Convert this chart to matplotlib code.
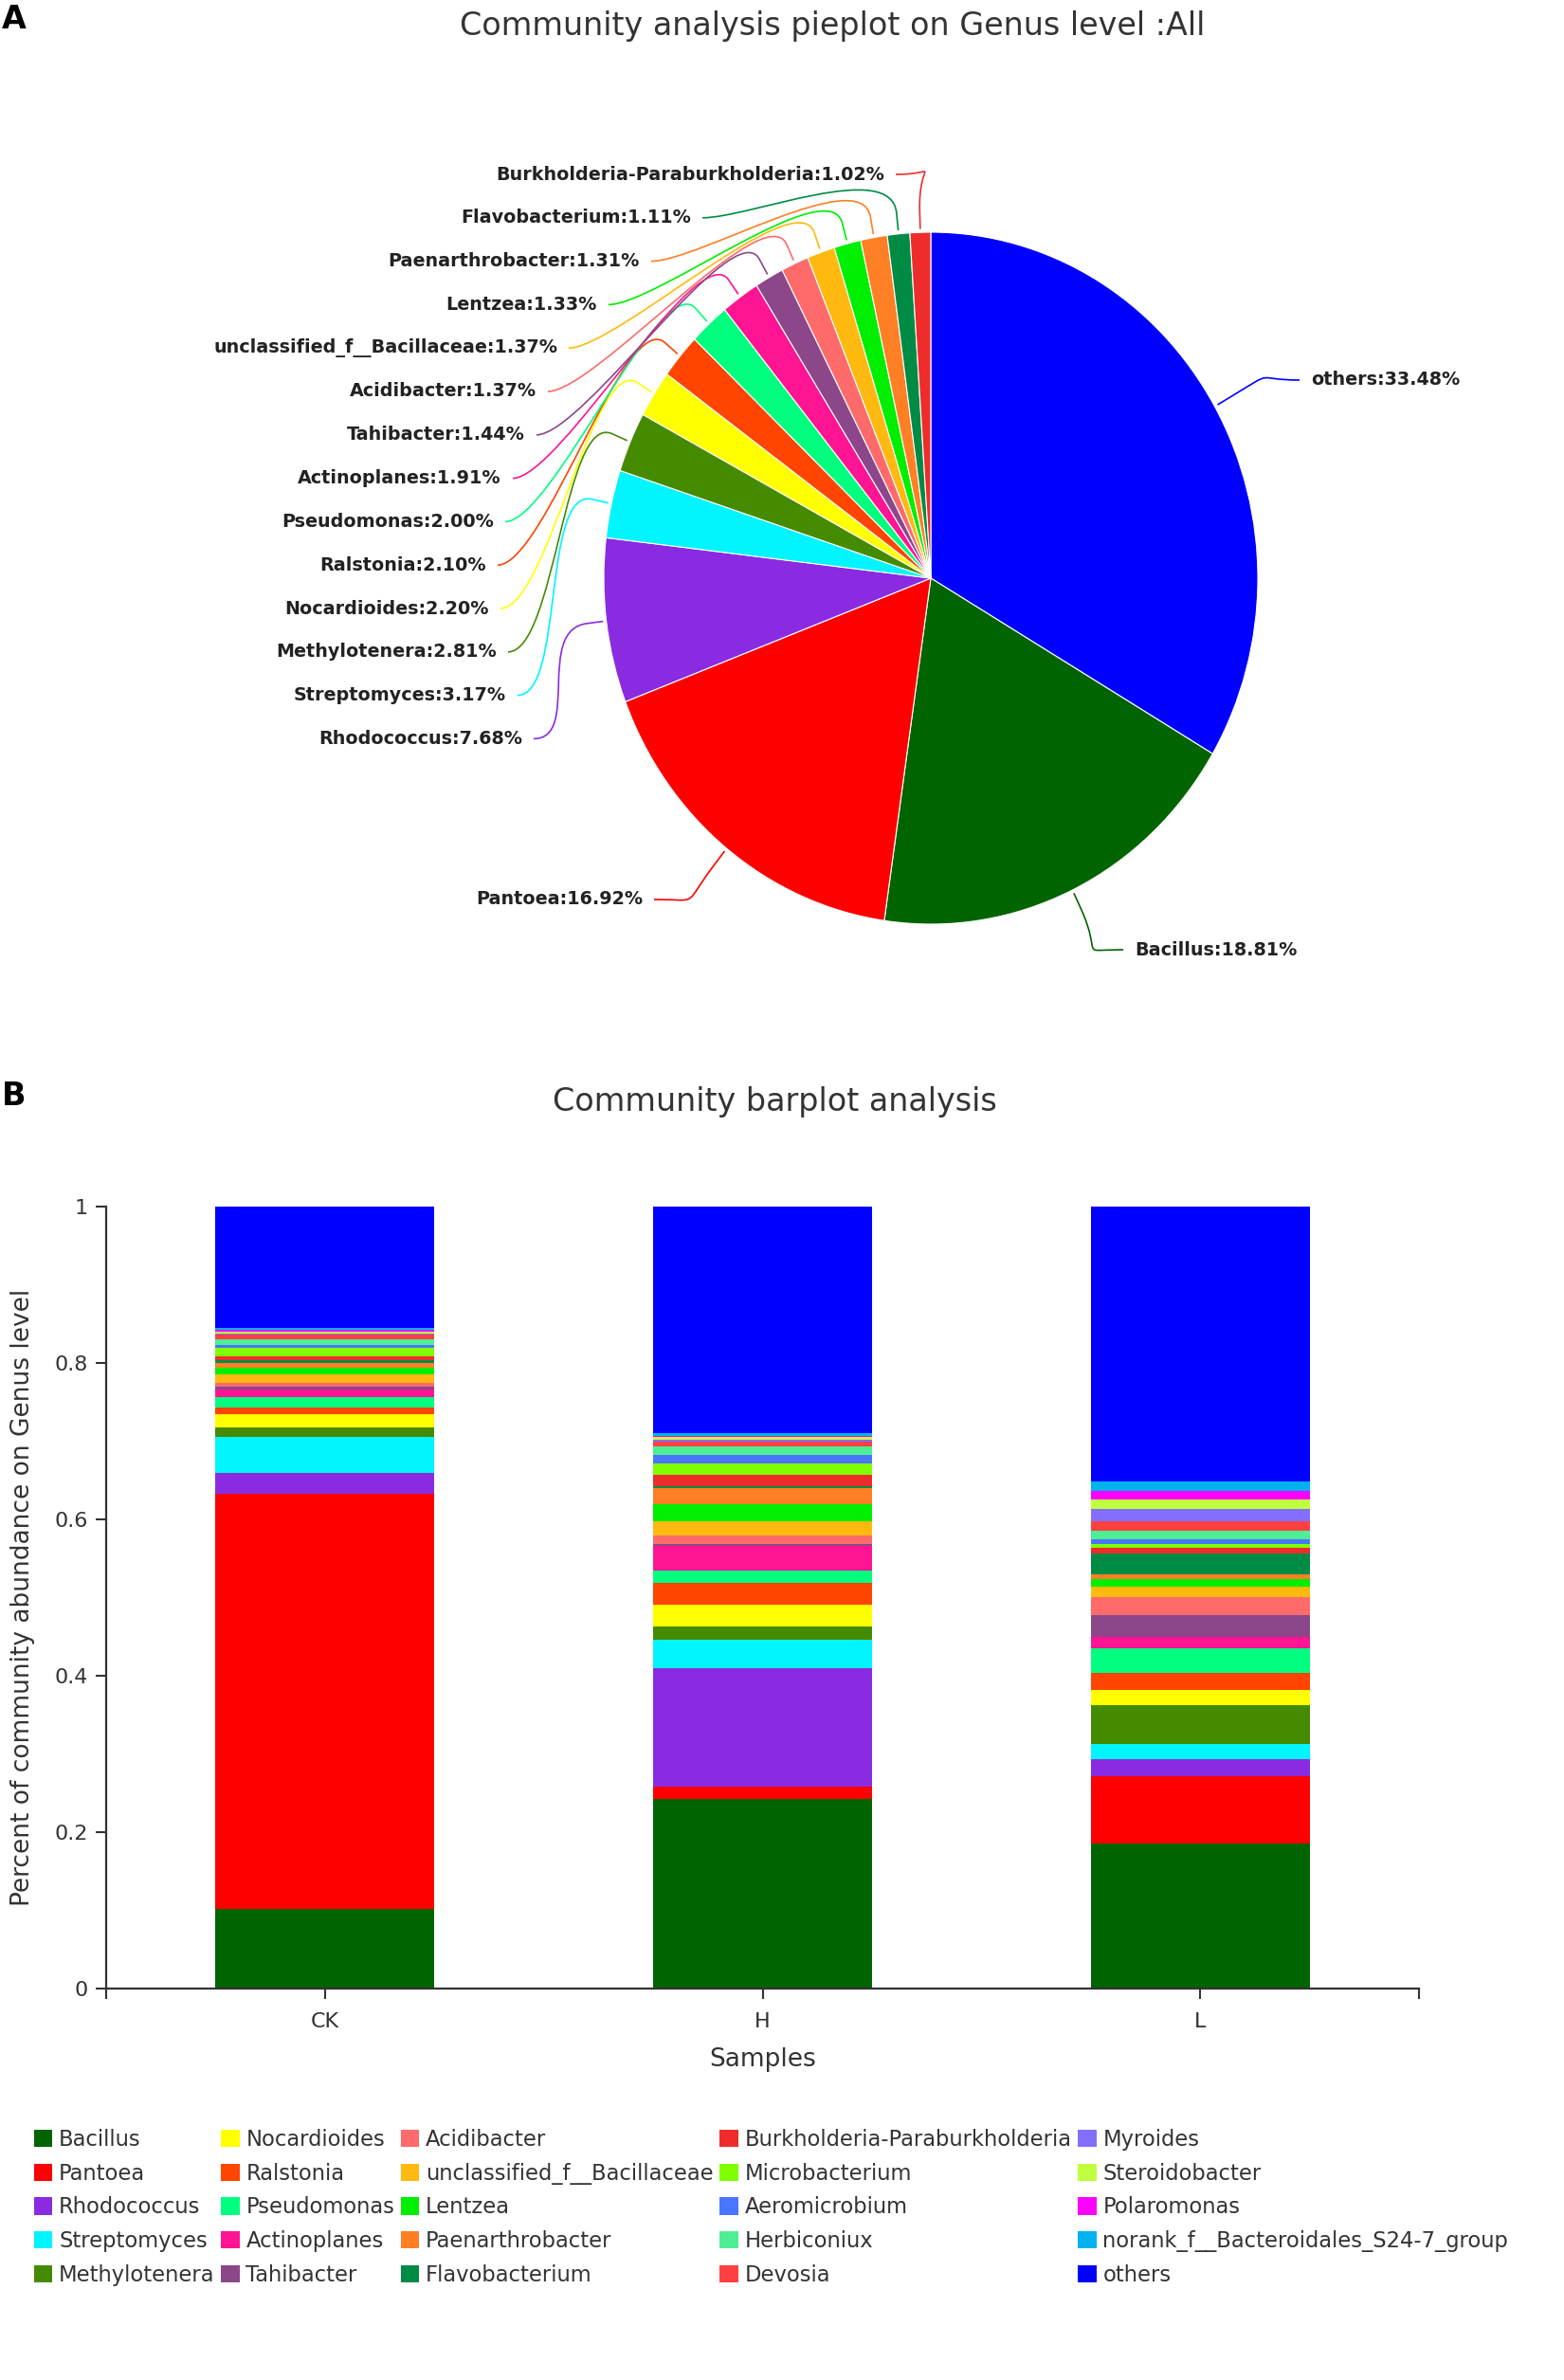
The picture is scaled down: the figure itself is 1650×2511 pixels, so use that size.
import numpy as np
import matplotlib
matplotlib.use("Agg")
import matplotlib.pyplot as plt
from matplotlib.path import Path
from matplotlib.patches import PathPatch
from matplotlib.ticker import FuncFormatter

plt.rcParams['font.family'] = ['DejaVu Sans']

# ---- data -------------------------------------------------------------
genera = ['Bacillus', 'Pantoea', 'Rhodococcus', 'Streptomyces', 'Methylotenera',
          'Nocardioides', 'Ralstonia', 'Pseudomonas', 'Actinoplanes', 'Tahibacter',
          'Acidibacter', 'unclassified_f__Bacillaceae', 'Lentzea', 'Paenarthrobacter',
          'Flavobacterium', 'Burkholderia-Paraburkholderia', 'Microbacterium',
          'Aeromicrobium', 'Herbiconiux', 'Devosia', 'Myroides', 'Steroidobacter',
          'Polaromonas', 'norank_f__Bacteroidales_S24-7_group', 'others']

colors = ['#006400', '#FF0000', '#8A2BE2', '#00F5FF', '#458B00',
          '#FFFF00', '#FF4500', '#00FF7F', '#FF1493', '#8B4789',
          '#FF6A6A', '#FFB90F', '#00EE00', '#FF7F24', '#008B45',
          '#EE2C2C', '#7FFF00', '#4876FF', '#4EEE94', '#FF4040',
          '#836FFF', '#C0FF3E', '#FF00FF', '#00B2EE', '#0000FF']

samples = ['CK', 'H', 'L']

ck_values = [0.102, 0.531, 0.026, 0.046, 0.012, 0.018, 0.008, 0.013, 0.010, 0.004,
             0.005, 0.011, 0.008, 0.006, 0.004, 0.005, 0.010, 0.004, 0.007, 0.006,
             0.002, 0.002, 0.002, 0.003, 0.155]
h_values = [0.243, 0.015, 0.152, 0.036, 0.017, 0.028, 0.028, 0.016, 0.031, 0.003,
            0.011, 0.018, 0.022, 0.020, 0.003, 0.014, 0.014, 0.012, 0.010, 0.006,
            0.003, 0.003, 0.002, 0.003, 0.290]
l_values = [0.185, 0.087, 0.021, 0.020, 0.050, 0.019, 0.022, 0.031, 0.015, 0.028,
            0.023, 0.013, 0.010, 0.006, 0.026, 0.008, 0.005, 0.006, 0.011, 0.012,
            0.015, 0.012, 0.011, 0.012, 0.352]

pie_names = ['others', 'Bacillus', 'Pantoea', 'Rhodococcus', 'Streptomyces',
             'Methylotenera', 'Nocardioides', 'Ralstonia', 'Pseudomonas',
             'Actinoplanes', 'Tahibacter', 'Acidibacter', 'unclassified_f__Bacillaceae',
             'Lentzea', 'Paenarthrobacter', 'Flavobacterium',
             'Burkholderia-Paraburkholderia']
pie_values = [33.48, 18.81, 16.92, 7.68, 3.17, 2.81, 2.20, 2.10, 2.00, 1.91,
              1.44, 1.37, 1.37, 1.33, 1.31, 1.11, 1.02]

color_of = dict(zip(genera, colors))

# ---- figure -----------------------------------------------------------
W, H = 1650, 2511
fig = plt.figure(figsize=(W / 100, H / 100), dpi=100)


def fx(x):
    return x / W


def fy(y):
    return 1 - y / H


fig.text(fx(2), fy(4), 'A', ha='left', va='top', fontsize=24, fontweight='bold')
fig.text(fx(2), fy(1140), 'B', ha='left', va='top', fontsize=24, fontweight='bold')
fig.text(fx(878), fy(28), 'Community analysis pieplot on Genus level :All',
         ha='center', va='center', fontsize=24, color='#333333')
fig.text(fx(817), fy(1162), 'Community barplot analysis',
         ha='center', va='center', fontsize=24, color='#333333')

# ---- pie --------------------------------------------------------------
cx, cy, rx, ry = 982, 610, 345, 365
ax = fig.add_axes([0, fy(1100), 1, 1100 / H])
wedges, _ = ax.pie(pie_values, colors=[color_of[n] for n in pie_names],
                   startangle=90, counterclock=False, radius=1, center=(0, 0),
                   wedgeprops={'edgecolor': 'white', 'linewidth': 0.8})
ax.set_aspect('auto')
ax.set_xlim((0 - cx) / rx, (W - cx) / rx)
ax.set_ylim((cy - 1100) / ry, cy / ry)
ax.axis('off')


def to_data(px, py):
    return ((px - cx) / rx, (cy - py) / ry)


def rim(theta, r):
    t = np.radians(theta)
    return (cx + r * rx * np.cos(t), cy - r * ry * np.sin(t))


# label anchor positions (pixels): left column of small genera, top to bottom
left_x_end = [933, 729, 675, 630, 588, 566, 554, 529, 521, 513, 516, 524, 534, 551]
label_pos = {}
for i, name in enumerate(pie_names[16:2:-1]):
    label_pos[name] = (left_x_end[i], 184 + i * 45.8, 'right')
label_pos['others'] = (1383, 401, 'left')
label_pos['Bacillus'] = (1197, 1002, 'left')
label_pos['Pantoea'] = (678, 949, 'right')

for w, name, val in zip(wedges, pie_names, pie_values):
    mid = (w.theta1 + w.theta2) / 2
    lx, ly, ha = label_pos[name]
    side = 1 if ha == 'right' else -1
    p0 = rim(mid, 1.01)
    p1 = rim(mid, 1.06)
    c1 = rim(mid, 1.22)
    e = (lx + side * 12, ly)
    c2 = (e[0] + side * 50, ly)
    verts = [to_data(*p) for p in (p0, p1, c1, c2, e)]
    path = Path(verts, [Path.MOVETO, Path.LINETO, Path.CURVE4, Path.CURVE4, Path.CURVE4])
    ax.add_patch(PathPatch(path, fill=False, edgecolor=color_of[name], linewidth=1.2))
    tx, ty = to_data(lx, ly)
    ax.text(tx, ty, f'{name}:{val:.2f}%', ha=ha, va='center',
            fontsize=13.8, fontweight='bold', color='#222222')

# ---- stacked bars ------------------------------------------------------
ax2 = fig.add_axes([fx(112), fy(2098), 1385 / W, 825 / H])
stack = np.array([ck_values, h_values, l_values]).T
x = np.arange(len(samples))
bottom = np.zeros(len(samples))
for name, color, vals in zip(genera, colors, stack):
    ax2.bar(x, vals, 0.5, bottom=bottom, color=color, label=name, linewidth=0)
    bottom += vals

ax2.set_xlim(-0.5, 2.5)
ax2.set_ylim(0, 1)
for s in ['top', 'right']:
    ax2.spines[s].set_visible(False)
for s in ['left', 'bottom']:
    ax2.spines[s].set_color('#333333')
    ax2.spines[s].set_linewidth(1.6)
ax2.set_xticks(x)
ax2.set_xticklabels(samples)
ax2.set_xticks([-0.5, 2.5], minor=True)
ax2.set_yticks(np.arange(0, 1.01, 0.2))
ax2.yaxis.set_major_formatter(FuncFormatter(lambda v, p: f'{v:g}'))
ax2.tick_params(axis='both', which='both', direction='out', length=8, width=1.5,
                color='#333333', labelsize=16, labelcolor='#333333')
ax2.tick_params(axis='x', pad=10)
ax2.tick_params(axis='y', pad=6)
ax2.set_ylabel('Percent of community abundance on Genus level', fontsize=19, color='#333333')
ax2.yaxis.set_label_coords(-0.054, 0.5)
ax2.set_xlabel('Samples', fontsize=19, color='#333333')
ax2.xaxis.set_label_coords(0.5, -0.075)

fig.legend(loc='upper left', bbox_to_anchor=(fx(36), fy(2246)), ncol=5, frameon=False,
           fontsize=16.3, handlelength=0.85, handleheight=0.85, handletextpad=0.3,
           columnspacing=0.3, labelspacing=0.56, borderaxespad=0, borderpad=0,
           labelcolor='#333333')

fig.savefig('out.png', dpi=100)
